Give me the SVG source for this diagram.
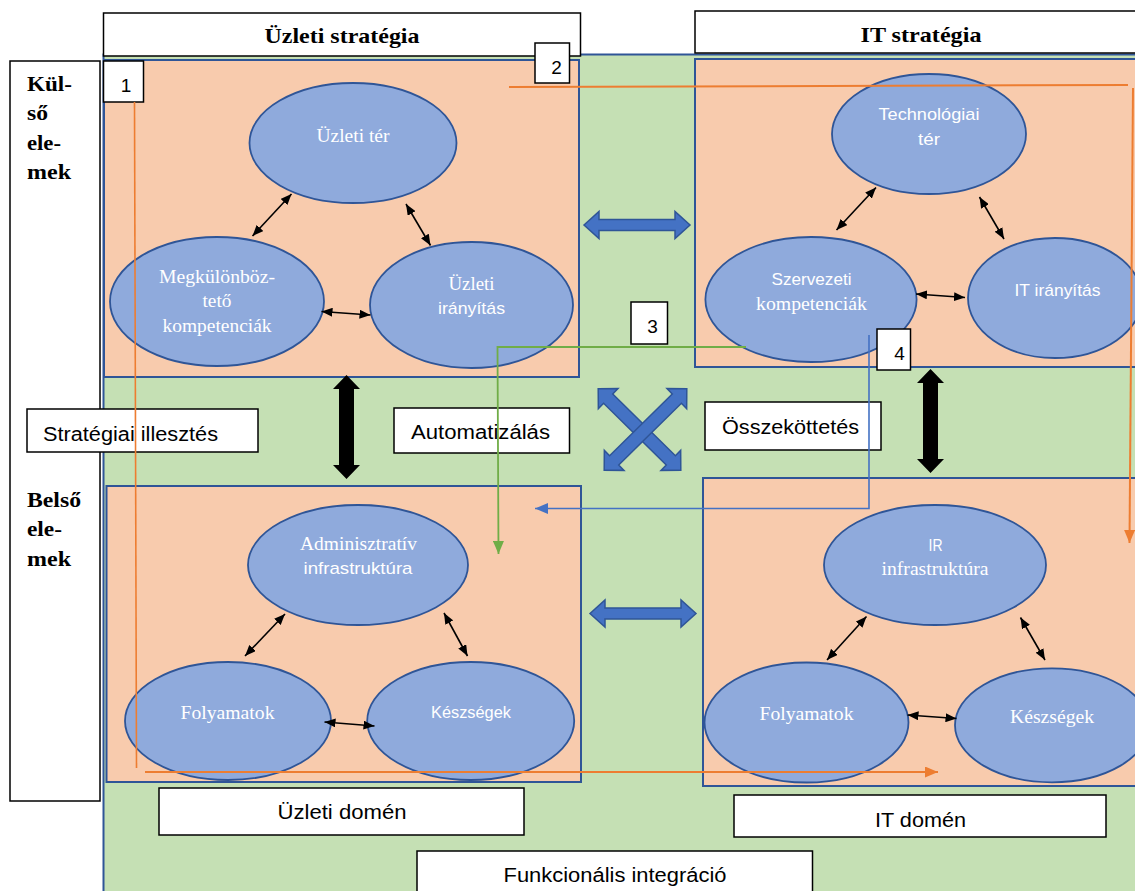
<svg xmlns="http://www.w3.org/2000/svg" width="1135" height="891" viewBox="0 0 1135 891">
  <defs>
    <style>
      .bg { fill: #C5E0B4; stroke: #2F5597; stroke-width: 2; }
      .zone { fill: #F8CBAD; stroke: #2F5597; stroke-width: 2; }
      .node { fill: #8FAADC; stroke: #2F5597; stroke-width: 1.8; }
      .box { fill: #FFFFFF; stroke: #000000; stroke-width: 1.5; }
      .hdr { font-family: "Liberation Serif", "Times New Roman", serif; font-weight: bold; font-size: 22px; fill: #000; }
      .lbl { font-family: "Liberation Sans", Arial, sans-serif; font-size: 20px; fill: #000; }
      .num { font-family: "Liberation Sans", Arial, sans-serif; font-size: 19px; fill: #000; text-anchor: middle; }
      .ts { font-family: "Liberation Serif", "Times New Roman", serif; font-size: 19px; fill: #FFFFFF; }
      .tn { font-family: "Liberation Sans", Arial, sans-serif; font-size: 17px; fill: #FFFFFF; }
      .link { stroke: #000; stroke-width: 1.6; fill: none; marker-start: url(#tip); marker-end: url(#tip); }
      .fat { fill: #000; }
      .wide { fill: #4472C4; stroke: #2F5597; stroke-width: 1.5; }
    </style>
    <marker id="tip" markerUnits="userSpaceOnUse" markerWidth="11" markerHeight="9" refX="11" refY="4.5" orient="auto-start-reverse">
      <path d="M0,0 L11,4.5 L0,9 z" fill="#000"/>
    </marker>
    <marker id="headO" markerUnits="userSpaceOnUse" markerWidth="13" markerHeight="11" refX="13" refY="5.5" orient="auto">
      <path d="M0,0 L13,5.5 L0,11 z" fill="#ED7D31"/>
    </marker>
    <marker id="headG" markerUnits="userSpaceOnUse" markerWidth="13" markerHeight="11" refX="13" refY="5.5" orient="auto">
      <path d="M0,0 L13,5.5 L0,11 z" fill="#70AD47"/>
    </marker>
    <marker id="headB" markerUnits="userSpaceOnUse" markerWidth="13" markerHeight="11" refX="13" refY="5.5" orient="auto">
      <path d="M0,0 L13,5.5 L0,11 z" fill="#4472C4"/>
    </marker>
    <!-- double-headed block arrows along x, centred on the origin -->
    <polygon id="dblH" points="-53,0 -38,-13.5 -38,-5.5 38,-5.5 38,-13.5 53,0 38,13.5 38,5.5 -38,5.5 -38,13.5"/>
    <polygon id="dblX" points="-58,0 -44,-14 -44,-6.5 44,-6.5 44,-14 58,0 44,14 44,6.5 -44,6.5 -44,14"/>
    <polygon id="dblV" points="0,-52 13.5,-38 7.5,-38 7.5,38 13.5,38 0,52 -13.5,38 -7.5,38 -7.5,-38 -13.5,-38"/>
  </defs>

  <!-- functional integration field -->
  <rect id="field" class="bg" x="103.5" y="54.5" width="1045" height="850"/>

  <!-- quadrants -->
  <g id="zones">
    <rect class="zone" x="104" y="60" width="475" height="317"/>
    <rect class="zone" x="695" y="59" width="450" height="308"/>
    <rect class="zone" x="106.5" y="486" width="474.5" height="296"/>
    <rect class="zone" x="703" y="478" width="445" height="308"/>
  </g>

  <!-- side column -->
  <g id="side">
    <rect class="box" x="10" y="61" width="90" height="740"/>
    <text class="hdr" x="27" y="91" textLength="45" lengthAdjust="spacingAndGlyphs">Kül-</text>
    <text class="hdr" x="27" y="120" textLength="21" lengthAdjust="spacingAndGlyphs">ső</text>
    <text class="hdr" x="27" y="150" textLength="34" lengthAdjust="spacingAndGlyphs">ele-</text>
    <text class="hdr" x="27" y="179" textLength="44" lengthAdjust="spacingAndGlyphs">mek</text>
    <text class="hdr" x="27" y="507" textLength="54" lengthAdjust="spacingAndGlyphs">Belső</text>
    <text class="hdr" x="27" y="536" textLength="35" lengthAdjust="spacingAndGlyphs">ele-</text>
    <text class="hdr" x="27" y="566" textLength="44" lengthAdjust="spacingAndGlyphs">mek</text>
  </g>

  <!-- headers -->
  <g id="hdr-business">
    <rect class="box" x="103.5" y="13" width="477" height="43"/>
    <text class="hdr" x="342" y="43" text-anchor="middle" textLength="155" lengthAdjust="spacingAndGlyphs">Üzleti stratégia</text>
  </g>
  <g id="hdr-it">
    <rect class="box" x="695" y="11" width="450" height="42"/>
    <text class="hdr" x="921" y="42" text-anchor="middle" textLength="121" lengthAdjust="spacingAndGlyphs">IT stratégia</text>
  </g>

  <!-- business strategy nodes -->
  <g id="n-uzleti-ter">
    <ellipse class="node" cx="353" cy="143" rx="103.5" ry="60"/>
    <text class="ts" x="353" y="142" text-anchor="middle" textLength="73" lengthAdjust="spacingAndGlyphs">Üzleti tér</text>
  </g>
  <g id="n-megkulonbozteto">
    <ellipse class="node" cx="217" cy="301.5" rx="107" ry="64.5"/>
    <text class="ts" x="217" y="283" text-anchor="middle" textLength="116" lengthAdjust="spacingAndGlyphs">Megkülönböz-</text>
    <text class="ts" x="217" y="307" text-anchor="middle" textLength="29" lengthAdjust="spacingAndGlyphs">tető</text>
    <text class="ts" x="217" y="331.5" text-anchor="middle" textLength="109" lengthAdjust="spacingAndGlyphs">kompetenciák</text>
  </g>
  <g id="n-uzleti-iranyitas">
    <ellipse class="node" cx="471.5" cy="305" rx="101.5" ry="63"/>
    <text class="ts" x="471.5" y="289.5" text-anchor="middle" textLength="46" lengthAdjust="spacingAndGlyphs">Üzleti</text>
    <text class="tn" x="471.5" y="313.5" text-anchor="middle" textLength="67" lengthAdjust="spacingAndGlyphs">irányítás</text>
  </g>

  <!-- IT strategy nodes -->
  <g id="n-technologiai-ter">
    <ellipse class="node" cx="929" cy="134" rx="97" ry="60"/>
    <text class="tn" x="929" y="120" text-anchor="middle" textLength="101" lengthAdjust="spacingAndGlyphs">Technológiai</text>
    <text class="tn" x="929" y="145" text-anchor="middle" textLength="22" lengthAdjust="spacingAndGlyphs">tér</text>
  </g>
  <g id="n-szervezeti">
    <ellipse class="node" cx="811" cy="299.5" rx="105.6" ry="62.5"/>
    <text class="tn" x="811.5" y="285" text-anchor="middle" textLength="80" lengthAdjust="spacingAndGlyphs">Szervezeti</text>
    <text class="ts" x="811.5" y="310" text-anchor="middle" textLength="111" lengthAdjust="spacingAndGlyphs">kompetenciák</text>
  </g>
  <g id="n-it-iranyitas">
    <ellipse class="node" cx="1055" cy="298" rx="87" ry="60"/>
    <text class="tn" x="1057.5" y="296" text-anchor="middle" textLength="86" lengthAdjust="spacingAndGlyphs">IT irányítás</text>
  </g>

  <!-- business domain nodes -->
  <g id="n-adminisztrativ">
    <ellipse class="node" cx="358" cy="565" rx="110" ry="60"/>
    <text class="ts" x="358.5" y="550" text-anchor="middle" textLength="117" lengthAdjust="spacingAndGlyphs">Adminisztratív</text>
    <text class="tn" x="358" y="574" text-anchor="middle" textLength="109" lengthAdjust="spacingAndGlyphs">infrastruktúra</text>
  </g>
  <g id="n-folyamatok-b">
    <ellipse class="node" cx="228" cy="721" rx="103" ry="59"/>
    <text class="ts" x="227.5" y="719" text-anchor="middle" textLength="94" lengthAdjust="spacingAndGlyphs">Folyamatok</text>
  </g>
  <g id="n-keszsegek-b">
    <ellipse class="node" cx="470.7" cy="721" rx="103.5" ry="59"/>
    <text class="tn" x="471" y="718" text-anchor="middle" textLength="80" lengthAdjust="spacingAndGlyphs">Készségek</text>
  </g>

  <!-- IT domain nodes -->
  <g id="n-ir-infra">
    <ellipse class="node" cx="935" cy="565" rx="111" ry="60"/>
    <text class="tn" x="935.5" y="551" text-anchor="middle" textLength="14" lengthAdjust="spacingAndGlyphs">IR</text>
    <text class="ts" x="935" y="575" text-anchor="middle" textLength="107" lengthAdjust="spacingAndGlyphs">infrastruktúra</text>
  </g>
  <g id="n-folyamatok-it">
    <ellipse class="node" cx="806.5" cy="722.5" rx="102" ry="60"/>
    <text class="ts" x="806.5" y="720" text-anchor="middle" textLength="94" lengthAdjust="spacingAndGlyphs">Folyamatok</text>
  </g>
  <g id="n-keszsegek-it">
    <ellipse class="node" cx="1052" cy="725.3" rx="97" ry="57"/>
    <text class="ts" x="1052" y="723" text-anchor="middle" textLength="84" lengthAdjust="spacingAndGlyphs">Készségek</text>
  </g>

  <!-- numbered markers -->
  <g id="m1"><rect class="box" x="103.5" y="61" width="40" height="41"/><text class="num" x="126" y="92">1</text></g>
  <g id="m2"><rect class="box" x="535" y="43" width="34.5" height="40"/><text class="num" x="556.5" y="74">2</text></g>
  <g id="m3"><rect class="box" x="631" y="302" width="36.5" height="42"/><text class="num" x="652.5" y="333">3</text></g>
  <g id="m4"><rect class="box" x="877" y="329" width="33.5" height="41"/><text class="num" x="899.5" y="360">4</text></g>

  <!-- relation labels -->
  <g id="l-illesztes">
    <rect class="box" x="27" y="409" width="231" height="43"/>
    <text class="lbl" x="43" y="441" textLength="175" lengthAdjust="spacingAndGlyphs">Stratégiai illesztés</text>
  </g>
  <g id="l-automatizalas">
    <rect class="box" x="394" y="408" width="175.5" height="45"/>
    <text class="lbl" x="411" y="438.5" textLength="139" lengthAdjust="spacingAndGlyphs">Automatizálás</text>
  </g>
  <g id="l-osszekottetes">
    <rect class="box" x="705" y="402" width="176" height="48"/>
    <text class="lbl" x="722" y="433.5" textLength="137" lengthAdjust="spacingAndGlyphs">Összeköttetés</text>
  </g>
  <g id="l-uzleti-domen">
    <rect class="box" x="159" y="788" width="365" height="47"/>
    <text class="lbl" x="342" y="819" text-anchor="middle" textLength="129" lengthAdjust="spacingAndGlyphs">Üzleti domén</text>
  </g>
  <g id="l-it-domen">
    <rect class="box" x="734" y="795" width="372" height="42"/>
    <text class="lbl" x="920.5" y="827" text-anchor="middle" textLength="91" lengthAdjust="spacingAndGlyphs">IT domén</text>
  </g>
  <g id="l-funkcionalis">
    <rect class="box" x="417" y="851" width="395.5" height="60"/>
    <text class="lbl" x="615" y="882" text-anchor="middle" textLength="223" lengthAdjust="spacingAndGlyphs">Funkcionális integráció</text>
  </g>

  <!-- connectors -->
  <g id="connectors">
    <!-- links inside the quadrants -->
    <line class="link" x1="291.5" y1="194" x2="252.5" y2="236"/>
    <line class="link" x1="406" y1="204" x2="430.5" y2="245.5"/>
    <line class="link" x1="321.5" y1="311.5" x2="370.5" y2="315"/>

    <line class="link" x1="876" y1="187.5" x2="836.5" y2="230"/>
    <line class="link" x1="979.5" y1="197" x2="1004" y2="239"/>
    <line class="link" x1="916" y1="294" x2="965" y2="297.5"/>

    <line class="link" x1="285" y1="614" x2="245" y2="656"/>
    <line class="link" x1="444" y1="613" x2="467.5" y2="656"/>
    <line class="link" x1="324.5" y1="722" x2="374.5" y2="726"/>

    <line class="link" x1="866.5" y1="616.5" x2="827" y2="660"/>
    <line class="link" x1="1020.5" y1="617.5" x2="1045" y2="660"/>
    <line class="link" x1="907.5" y1="715" x2="956.5" y2="718.5"/>

    <!-- block arrows between the quadrants -->
    <use href="#dblH" class="wide" transform="translate(637,225)"/>
    <use href="#dblH" class="wide" transform="translate(643,613.5)"/>
    <use href="#dblV" class="fat" transform="translate(346.5,427)"/>
    <use href="#dblV" class="fat" transform="translate(930.5,421)"/>
    <use href="#dblX" class="wide" transform="translate(639.5,429.5) rotate(44.6)"/>
    <use href="#dblX" class="wide" transform="translate(645.5,429.5) rotate(-44.6)"/>

    <!-- alignment paths -->
    <line x1="134.5" y1="102" x2="136.5" y2="768" stroke="#ED7D31" stroke-width="1.6"/>
    <line x1="145" y1="772" x2="938" y2="772" stroke="#ED7D31" stroke-width="2" marker-end="url(#headO)"/>
    <line x1="509" y1="87" x2="1128" y2="85" stroke="#ED7D31" stroke-width="2"/>
    <line x1="1133" y1="88" x2="1129.5" y2="543" stroke="#ED7D31" stroke-width="2" marker-end="url(#headO)"/>
    <polyline points="746,347 497.5,347 498.5,554" fill="none" stroke="#70AD47" stroke-width="1.8" marker-end="url(#headG)"/>
    <polyline points="869,335 869,508.5 535,508.5" fill="none" stroke="#4472C4" stroke-width="1.6" marker-end="url(#headB)"/>
  </g>
</svg>
